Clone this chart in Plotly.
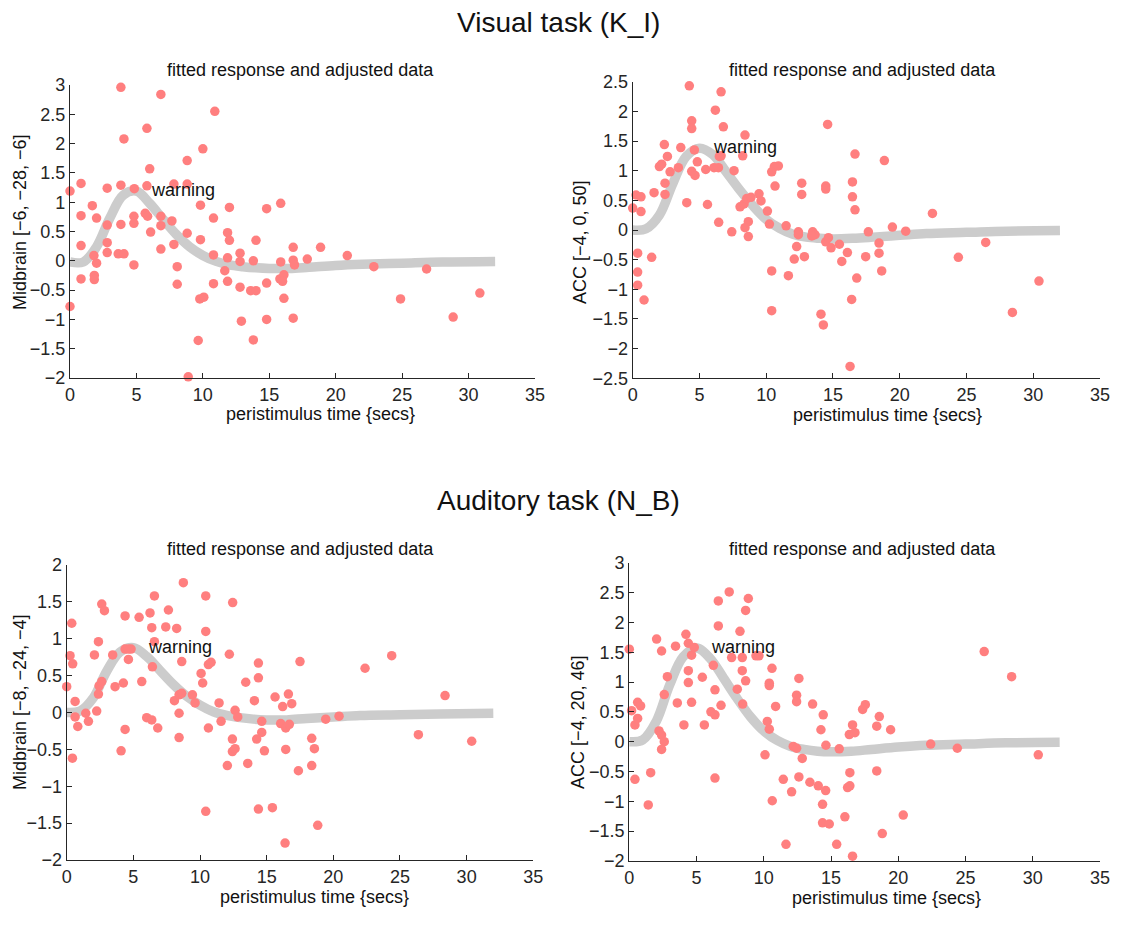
import plotly.graph_objects as go

# ---------------- data ----------------
X_TICKS = [0, 5, 10, 15, 20, 25, 30, 35]

# fitted response curves
T_FIT = [0, 1, 2, 3, 4, 5, 6, 7, 8, 9, 10, 11, 12, 13, 14, 15, 16.5, 18, 20, 22, 25, 28, 32]
FIT_VIS_MID = [-0.02, -0.02, 0.24, 0.73, 1.12, 1.19, 0.98, 0.71, 0.45, 0.24, 0.09, -0.01, -0.07,
               -0.10, -0.12, -0.13, -0.13, -0.11, -0.08, -0.06, -0.04, -0.02, -0.01]
FIT_VIS_ACC = [0.0, 0.02, 0.25, 0.78, 1.24, 1.38, 1.27, 0.98, 0.68, 0.41, 0.18, 0.03, -0.07,
               -0.12, -0.14, -0.15, -0.14, -0.12, -0.09, -0.06, -0.04, -0.02, -0.01]
FIT_AUD_MID = [0.0, 0.02, 0.20, 0.56, 0.82, 0.88, 0.76, 0.57, 0.38, 0.22, 0.10, 0.01, -0.04,
               -0.07, -0.09, -0.10, -0.10, -0.08, -0.06, -0.04, -0.03, -0.02, -0.01]
FIT_AUD_ACC = [0.0, 0.03, 0.34, 0.95, 1.42, 1.57, 1.40, 1.07, 0.73, 0.42, 0.18, 0.02, -0.08,
               -0.13, -0.16, -0.17, -0.16, -0.13, -0.09, -0.06, -0.04, -0.02, -0.01]

# adjusted data - Visual task, Midbrain
T_VIS_MID = [
    0.00, 0.83, 0.83, 0.83, 0.83, 0.00, 1.68, 2.00, 1.80, 2.00,
    1.83, 1.83, 2.80, 2.80, 2.80, 2.80, 3.83, 4.06, 3.83, 3.83,
    3.63, 4.06, 4.84, 4.81, 4.81, 4.81, 5.79, 6.00, 5.79, 5.66,
    5.84, 6.07, 6.84, 6.84, 6.84, 6.84, 7.67, 7.82, 7.82, 8.07,
    8.07, 8.82, 8.82, 8.82, 8.90, 9.82, 9.82, 9.77, 10.07, 9.65,
    10.00, 10.90, 10.80, 10.80, 10.80, 12.00, 11.86, 12.00, 11.86, 11.65,
    11.86, 12.80, 12.80, 12.80, 12.90, 13.80, 14.00, 13.60, 14.00, 13.80,
    14.80, 14.80, 14.80, 15.86, 15.86, 15.80, 16.10, 16.00, 16.10, 16.80,
    16.80, 16.90, 16.80, 17.86, 18.86, 20.87, 22.87, 24.88, 26.84, 28.84,
    30.85]
Y_VIS_MID = [
    1.19, 1.32, 0.77, 0.26, -0.31, -0.78, 0.94, 0.73, 0.09, -0.04,
    -0.25, -0.32, 1.24, 0.61, 0.31, 0.14, 2.96, 2.08, 1.29, 0.62,
    0.12, 0.12, 1.23, 0.76, 0.64, -0.07, 2.26, 1.57, 1.28, 0.81,
    0.76, 0.49, 2.84, 0.76, 0.60, 0.20, 0.68, 1.31, 0.28, -0.10,
    -0.40, 1.71, 1.31, 0.47, -1.98, 0.95, 0.36, -0.65, -0.62, -1.36,
    1.91, 2.55, 0.73, 0.10, -0.39, 0.91, 0.48, 0.35, 0.05, -0.17,
    -0.35, 0.13, -0.01, -0.45, -1.03, 0.00, 0.35, -0.51, -0.51, -1.35,
    0.89, -0.38, -1.00, 0.98, -0.02, -0.31, -0.24, -0.35, -0.64, 0.23,
    0.01, -0.07, -0.98, 0.03, 0.23, 0.09, -0.10, -0.65, -0.14, -0.96,
    -0.55]

# adjusted data - Visual task, ACC
T_VIS_ACC = [
    0.00, 0.25, 0.62, 0.62, 0.37, 0.37, 0.37, 0.85, 1.60, 1.42,
    2.00, 2.17, 2.37, 2.60, 2.42, 2.42, 2.80, 3.42, 3.60, 4.05,
    4.24, 4.42, 4.42, 4.62, 4.42, 4.67, 4.84, 5.47, 5.60, 6.19,
    6.62, 6.79, 6.49, 6.62, 6.09, 6.42, 6.44, 7.59, 7.42, 8.41,
    8.24, 8.04, 8.34, 8.54, 8.66, 8.41, 8.66, 8.86, 9.46, 9.61,
    10.09, 10.24, 10.41, 10.61, 10.91, 10.66, 10.41, 10.41, 11.49, 11.66,
    12.41, 12.41, 12.28, 12.10, 12.66, 12.66, 12.86, 13.48, 13.66, 13.41,
    14.46, 14.46, 14.60, 14.46, 14.66, 14.86, 14.10, 14.28, 15.48, 15.66,
    16.08, 16.28, 16.40, 16.46, 16.46, 16.65, 16.65, 16.78, 17.65, 17.45,
    18.85, 18.45, 18.45, 18.65, 19.45, 20.45, 22.45, 24.39, 26.44, 28.44,
    30.43]
Y_VIS_ACC = [
    0.37, 0.59, 0.56, 0.31, -0.39, -0.71, -0.93, -1.18, 0.63, -0.46,
    1.07, 1.11, 1.44, 1.24, 0.79, 0.60, 0.98, 1.05, 1.39, 0.46,
    2.43, 1.84, 1.71, 1.35, 0.99, 0.92, 1.15, 1.02, 0.43, 2.02,
    2.33, 1.74, 1.24, 1.25, 1.05, 1.05, 0.13, 1.00, -0.03, 1.60,
    1.25, 0.39, 0.44, 0.53, 0.14, 0.04, -0.11, 0.55, 0.61, 0.49,
    0.32, 0.10, 0.98, 1.07, 1.08, 0.74, -0.69, -1.36, 0.07, -0.77,
    -0.03, -0.08, -0.28, -0.49, 0.79, 0.60, -0.45, -0.03, -0.08, -0.10,
    0.74, 0.69, 1.78, -0.20, -0.13, -0.30, -1.42, -1.60, -0.24, -0.53,
    -0.38, -2.30, -1.17, 0.81, 0.56, 0.34, 1.28, -0.81, -0.03, -0.45,
    1.17, -0.22, -0.39, -0.69, 0.05, -0.02, 0.28, -0.46, -0.21, -1.39,
    -0.86]

# adjusted data - Auditory task, Midbrain
T_AUD_MID = [
    0.00, 0.25, 0.45, 0.38, 0.63, 0.63, 0.83, 0.43, 1.43, 1.63,
    2.08, 2.25, 2.38, 2.38, 2.43, 2.63, 2.63, 2.83, 3.45, 3.63,
    4.08, 4.25, 4.38, 4.38, 4.63, 4.83, 4.63, 4.38, 5.43, 5.63,
    6.00, 6.38, 6.83, 6.25, 6.38, 6.58, 6.58, 6.43, 7.43, 7.63,
    8.25, 8.63, 8.75, 8.08, 8.43, 8.63, 8.43, 8.43, 9.43, 9.63,
    10.08, 10.20, 10.43, 10.43, 10.63, 10.83, 10.63, 10.43, 11.43, 11.58,
    12.20, 12.45, 12.63, 12.83, 12.43, 12.43, 12.63, 12.05, 13.58, 13.43,
    14.08, 14.38, 14.38, 14.63, 14.63, 14.25, 14.83, 14.38, 15.43, 15.63,
    16.20, 16.63, 16.88, 16.05, 16.43, 16.70, 16.43, 16.38, 17.50, 17.38,
    18.38, 18.58, 18.38, 18.83, 19.43, 20.43, 22.38, 24.38, 26.38, 28.38,
    30.38]
Y_AUD_MID = [
    0.35, 0.77, 0.66, 1.21, 0.15, -0.06, -0.19, -0.62, -0.01, -0.12,
    0.78, 0.02, 0.96, 0.25, 0.36, 0.42, 1.47, 1.38, 0.78, 0.35,
    -0.52, 0.40, 1.31, 0.86, 0.72, 0.86, 0.86, -0.23, 1.29, 0.42,
    -0.07, -0.10, -0.21, 1.35, 1.15, 1.58, 0.96, 0.62, 1.16, 1.39,
    1.14, 0.69, 1.76, 0.16, 0.24, 0.26, -0.01, -0.34, 0.24, 0.13,
    0.53, 0.40, 1.58, 1.10, 0.65, 0.68, -0.21, -1.34, 0.13, -0.12,
    0.79, 1.49, 0.03, -0.06, -0.36, -0.53, -0.49, -0.72, -0.69, 0.41,
    0.16, 0.67, 0.47, -0.12, -0.27, -0.36, -0.52, -1.31, -1.29, 0.21,
    0.08, 0.25, 0.12, -0.15, -0.21, -0.16, -0.50, -1.77, 0.69, -0.79,
    -0.35, -0.49, -0.72, -1.53, -0.09, -0.05, 0.60, 0.77, -0.30, 0.23,
    -0.39]

# adjusted data - Auditory task, ACC
T_AUD_ACC = [
    0.00, 0.17, 0.42, 0.62, 0.62, 0.84, 0.42, 1.41, 1.59, 2.03,
    2.40, 2.21, 2.40, 2.60, 2.40, 2.60, 2.83, 3.44, 3.57, 4.06,
    4.21, 4.39, 4.63, 4.83, 4.39, 4.39, 4.63, 5.43, 5.58, 6.07,
    6.37, 6.37, 6.25, 6.37, 6.62, 6.62, 6.82, 7.43, 7.61, 8.03,
    8.23, 8.40, 8.40, 8.65, 8.43, 8.65, 8.85, 9.42, 9.64, 10.09,
    10.26, 10.41, 10.41, 10.41, 10.61, 10.88, 10.63, 11.45, 11.65, 12.07,
    12.19, 12.44, 12.44, 12.44, 12.61, 12.61, 12.86, 13.43, 13.63, 14.05,
    14.25, 14.42, 14.62, 14.60, 14.37, 14.37, 14.87, 15.61, 15.42, 16.03,
    16.36, 16.60, 16.78, 16.40, 16.40, 16.23, 16.60, 17.35, 17.55, 18.59,
    18.40, 18.40, 18.81, 19.43, 20.37, 22.41, 24.39, 26.39, 28.43, 30.41]
Y_AUD_ACC = [
    1.55, 0.52, 0.28, 0.39, 0.66, 0.60, -0.63, -1.06, -0.52, 1.72,
    1.52, 0.18, 0.11, 0.00, -0.13, 0.79, 1.09, 1.60, 0.65, 0.28,
    1.80, 1.65, 1.45, 1.58, 1.19, 0.99, 0.66, 1.08, 0.28, 0.50,
    0.45, 0.87, 1.28, -0.61, 2.36, 1.94, 0.61, 2.51, 1.41, 0.88,
    1.85, 1.41, 1.19, 1.02, 0.63, 2.20, 2.40, 1.44, 1.44, -0.22,
    0.34, 0.21, 0.98, 0.94, 1.23, 0.59, -0.99, -0.63, -1.72, -0.84,
    -0.08, -0.11, 0.78, 0.67, 1.06, -0.59, -0.28, -0.68, 0.63, -0.74,
    0.20, 0.45, -0.06, -0.82, -1.05, -1.36, -1.38, -0.12, -1.72, -1.26,
    0.12, 0.28, 0.15, -0.52, -0.74, -0.77, -1.92, 0.54, 0.62, 0.42,
    0.26, -0.49, -1.54, 0.20, -1.23, -0.04, -0.11, 1.51, 1.09, -0.22]

Y_LABELS = ["Midbrain [\u22126, \u221228, \u22126]", "ACC [\u22124, 0, 50]",
            "Midbrain [\u22128, \u221224, \u22124]", "ACC [\u22124, 20, 46]"]
Y_RANGES = [[-2, 3], [-2.5, 2.5], [-2, 2], [-2, 3]]
WARNING_POS = [(5.95, 1.21), (5.9, 1.40), (5.95, 0.89), (5.95, 1.59)]
TASK_TITLES = ["Visual task (K_I)", "Auditory task (N_B)"]
SUB_TITLE = "fitted response and adjusted data"
X_LABEL = "peristimulus time {secs}"

# ---------------- layout geometry (pixels in the 1121x925 window) ----------------
OFF = 8                      # page body margin
W, H = 1121 - 2 * OFF, 925 - 2 * OFF
# (left, right, top, bottom) plot-area pixels
BOXES = [(70, 535, 85, 378), (632.7, 1100, 81.7, 378.3),
         (66.7, 533.3, 565, 860), (629.3, 1100, 562.7, 861)]
YLABEL_XY = [(20, 222), (580, 242), (20, 702), (578, 722)]
XLABEL_XY = [(320, 414), (887, 415), (314, 897), (886, 898)]
TITLE_Y = [22, 500]
SUBTITLE_XY = [(300, 70), (862, 70), (300, 549), (862, 549)]


def px(x):
    return (x - OFF) / W


def py(y):
    return 1 - (y - OFF) / H


panels = [
    (T_VIS_MID, Y_VIS_MID, FIT_VIS_MID),
    (T_VIS_ACC, Y_VIS_ACC, FIT_VIS_ACC),
    (T_AUD_MID, Y_AUD_MID, FIT_AUD_MID),
    (T_AUD_ACC, Y_AUD_ACC, FIT_AUD_ACC),
]

FONT = "Liberation Sans, Arial, Helvetica, sans-serif"
AX_COL = "#262626"
TXT_COL = "#111111"

fig = go.Figure()
annotations = []
layout = {}
for i, (tx, ty, fit) in enumerate(panels):
    n = "" if i == 0 else str(i + 1)
    xa, ya = "x" + n, "y" + n
    fig.add_trace(go.Scatter(x=T_FIT, y=fit, mode="lines", xaxis=xa, yaxis=ya,
                             line=dict(color="#CCCCCC", width=9.5, shape="spline"),
                             hoverinfo="skip", showlegend=False))
    fig.add_trace(go.Scatter(x=tx, y=ty, mode="markers", xaxis=xa, yaxis=ya,
                             marker=dict(color="#FF7F7F", size=9.5, line=dict(width=0)),
                             cliponaxis=False, showlegend=False))
    l, r, t, b = BOXES[i]
    common = dict(showline=True, linecolor=AX_COL, linewidth=1.3, ticks="inside", ticklen=5,
                  tickcolor=AX_COL, tickwidth=1.2, showgrid=False, zeroline=False,
                  automargin=False, tickfont=dict(family=FONT, size=18, color=AX_COL))
    layout["xaxis" + n] = dict(domain=[px(l), px(r)], anchor=ya, range=[0, 35],
                               tickvals=X_TICKS, **common)
    layout["yaxis" + n] = dict(domain=[py(b), py(t)], anchor=xa, range=Y_RANGES[i],
                               dtick=0.5, **common)
    # warning label
    wx, wy = WARNING_POS[i]
    annotations.append(dict(x=wx, y=wy, xref=xa, yref=ya, text="warning", showarrow=False,
                            xanchor="left", yanchor="middle",
                            font=dict(family=FONT, size=18, color=TXT_COL)))
    # subplot title
    sx, sy = SUBTITLE_XY[i]
    annotations.append(dict(x=px(sx), y=py(sy), xref="paper", yref="paper",
                            text=SUB_TITLE, showarrow=False, xanchor="center", yanchor="middle",
                            font=dict(family=FONT, size=18, color=TXT_COL)))
    # x label
    xx, xy = XLABEL_XY[i]
    annotations.append(dict(x=px(xx), y=py(xy), xref="paper", yref="paper",
                            text=X_LABEL, showarrow=False, xanchor="center", yanchor="middle",
                            font=dict(family=FONT, size=18, color=TXT_COL)))
    # y label
    lx, ly = YLABEL_XY[i]
    annotations.append(dict(x=px(lx), y=py(ly), xref="paper", yref="paper",
                            text=Y_LABELS[i], showarrow=False, textangle=-90,
                            xanchor="center", yanchor="middle",
                            font=dict(family=FONT, size=18, color=TXT_COL)))

for k, ty_px in enumerate(TITLE_Y):
    annotations.append(dict(x=px(558), y=py(ty_px), xref="paper", yref="paper",
                            text=TASK_TITLES[k], showarrow=False, xanchor="center",
                            yanchor="middle", font=dict(family=FONT, size=28, color=TXT_COL)))

fig.update_layout(width=W, height=H, margin=dict(l=0, r=0, t=0, b=0, autoexpand=False),
                  paper_bgcolor="white", plot_bgcolor="white",
                  annotations=annotations, **layout)

fig.write_html("out.html")
